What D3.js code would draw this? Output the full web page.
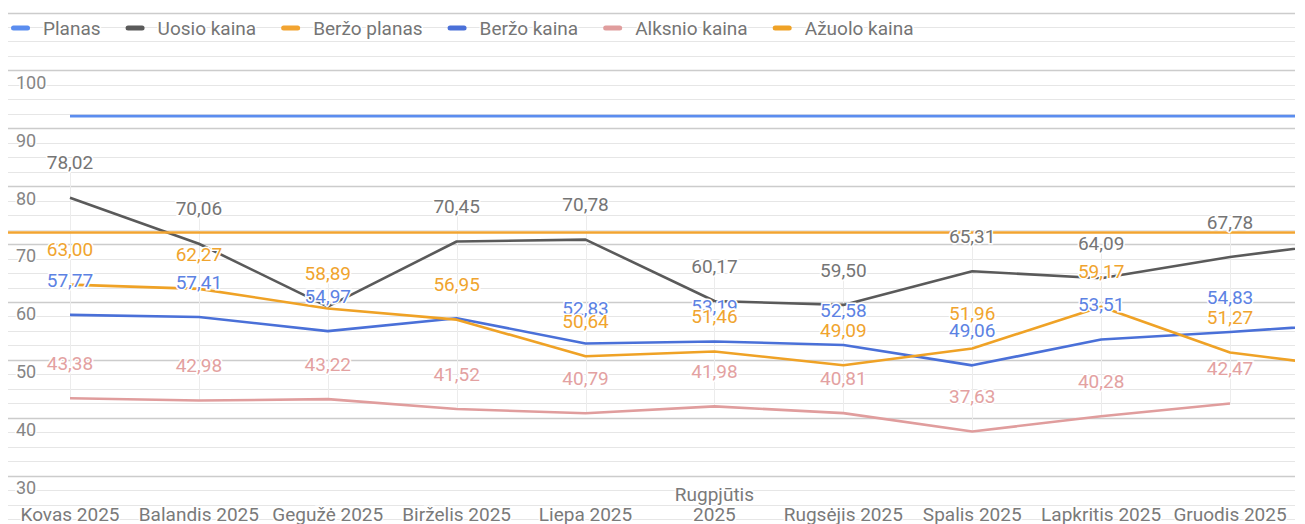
<!DOCTYPE html>
<html>
<head>
<meta charset="utf-8">
<script src="https://cdn.jsdelivr.net/npm/d3@7"></script>
<style>
  body { margin: 0; background: #fff; }
  svg { display: block; font-family: Roboto, "Noto Sans", sans-serif; }
</style>
</head>
<body>
<svg width="1305" height="524"></svg>
<script>
// months (first and last sit outside the visible window)
const months = ["Vasaris 2025", "Kovas 2025", "Balandis 2025", "Gegužė 2025", "Birželis 2025", "Liepa 2025",
  "Rugpjūtis 2025", "Rugsėjis 2025", "Spalis 2025", "Lapkritis 2025", "Gruodis 2025", "Sausis 2026"];

const planas      = [null, 92.1, 92.1, 92.1, 92.1, 92.1, 92.1, 92.1, 92.1, 92.1, 92.1, 92.1];
const uosioKaina  = [null, 78.02, 70.06, 59.2, 70.45, 70.78, 60.17, 59.50, 65.31, 64.09, 67.78, 70.6];
const berzoPlanas = [72, 72, 72, 72, 72, 72, 72, 72, 72, 72, 72, 72];
const berzoKaina  = [null, 57.77, 57.41, 54.97, 57.2, 52.83, 53.19, 52.58, 49.06, 53.51, 54.83, 56.3];
const alksnioKaina = [null, 43.38, 42.98, 43.22, 41.52, 40.79, 41.98, 40.81, 37.63, 40.28, 42.47, null];
const azuoloKaina = [null, 63.00, 62.27, 58.89, 56.95, 50.64, 51.46, 49.09, 51.96, 59.17, 51.27, 48.5];

const yTicks = [30, 40, 50, 60, 70, 80, 90, 100];

const series = [
  {name: "Planas", values: planas, color: "#5b8def", text: null},
  {name: "Uosio kaina", values: uosioKaina, color: "#5a5a5a", text: "#757575"},
  {name: "Beržo planas", values: berzoPlanas, color: "#f2a431", text: null},
  {name: "Beržo kaina", values: berzoKaina, color: "#4a70d8", text: "#5c82e3"},
  {name: "Alksnio kaina", values: alksnioKaina, color: "#e09d9d", text: "#e3a1a1"},
  {name: "Ažuolo kaina", values: azuoloKaina, color: "#efa226", text: "#f0a42e"}
];

const svg = d3.select("svg");
const left = 8, right = 1295;
const fs = 19;

const x = d3.scalePoint()
  .domain(months)
  .range([-58.9, 1358.9]);

const y = d3.scaleLinear()
  .domain([30, 100])
  .range([475.7, 70.4]);

const fmt = d3.formatLocale({decimal: ",", thousands: " ", grouping: [3], currency: ["", "€"]}).format(".2f");

svg.append("defs").append("clipPath")
    .attr("id", "plot")
  .append("rect")
    .attr("x", left).attr("y", 0)
    .attr("width", right - left).attr("height", 524);

// horizontal gridlines every 2.5, darker every 10
const grid = d3.range(22.5, 110.1, 2.5);
svg.append("g")
  .selectAll("line")
  .data(grid)
  .join("line")
    .attr("x1", left).attr("x2", right)
    .attr("y1", d => Math.round(y(d)) + 0.5)
    .attr("y2", d => Math.round(y(d)) + 0.5)
    .attr("stroke", d => d % 10 === 0 ? "#cccccc" : "#e6e6e6")
    .attr("stroke-width", d => d % 10 === 0 ? 1.5 : 1);

// vertical category guides from top label down to lowest point
const labelled = series.filter(s => s.text);
svg.append("g")
  .selectAll("line")
  .data(months.filter((m, i) => labelled.some(s => s.values[i] != null) && x(m) > left && x(m) < right))
  .join("line")
    .attr("x1", d => Math.round(x(d)) + 0.5)
    .attr("x2", d => Math.round(x(d)) + 0.5)
    .attr("y1", d => {
      const i = months.indexOf(d);
      return y(d3.max(labelled, s => s.values[i])) - 26;
    })
    .attr("y2", d => {
      const i = months.indexOf(d);
      return y(d3.min(labelled, s => s.values[i]));
    })
    .attr("stroke", "#ececec")
    .attr("stroke-width", 1);

// y tick labels
svg.append("g")
  .selectAll("text")
  .data(yTicks)
  .join("text")
    .attr("x", 16)
    .attr("y", d => y(d) + 12)
    .attr("dy", "0.35em")
    .attr("font-size", 18)
    .attr("fill", "#858585")
    .attr("stroke", "#fff").attr("stroke-width", 3).attr("paint-order", "stroke")
    .text(d => d);

// lines
const line = d3.line()
  .defined(d => d.v != null)
  .x(d => x(d.m))
  .y(d => y(d.v));

svg.append("g")
    .attr("clip-path", "url(#plot)")
  .selectAll("path")
  .data(series)
  .join("path")
    .attr("fill", "none")
    .attr("stroke", d => d.color)
    .attr("stroke-width", 2.6)
    .attr("stroke-linejoin", "round")
    .attr("d", d => line(d.values.map((v, i) => ({m: months[i], v}))));

// data labels (later series drawn on top, near-duplicates skipped)
const labels = [];
labelled.forEach((s, si) => {
  s.values.forEach((v, i) => {
    if (v == null) return;
    const xx = x(months[i]);
    if (xx < left || xx > right) return;
    labels.push({s, si, i, v, x: xx, y: y(v) - 35});
  });
});
const shown = labels.filter(a => !labels.some(b => b.i === a.i && b.si > a.si && Math.abs(b.y - a.y) < 3));

svg.append("g")
  .selectAll("text")
  .data(shown)
  .join("text")
    .attr("x", d => d.x)
    .attr("y", d => d.y)
    .attr("dy", "0.35em")
    .attr("text-anchor", "middle")
    .attr("font-size", fs)
    .attr("fill", d => d.s.text)
    .attr("stroke", "#fff").attr("stroke-width", 3).attr("paint-order", "stroke")
    .text(d => fmt(d.v));

// x labels, wrapped when too wide for the step
const step = x.step();
const xl = svg.append("g")
  .selectAll("text")
  .data(months.filter(m => x(m) > left && x(m) < right))
  .join("text")
    .attr("x", d => x(d))
    .attr("y", 514)
    .attr("dy", "0.35em")
    .attr("text-anchor", "middle")
    .attr("font-size", fs)
    .attr("fill", "#7a7a7a")
    .attr("stroke", "#fff").attr("stroke-width", 3).attr("paint-order", "stroke")
    .text(d => d);

xl.each(function(d) {
  const t = d3.select(this);
  if (this.getComputedTextLength() > step * 0.95) {
    const words = d.split(" ");
    t.text(null);
    t.append("tspan").attr("x", x(d)).attr("dy", "-0.68em").text(words.slice(0, -1).join(" "));
    t.append("tspan").attr("x", x(d)).attr("dy", "1.03em").text(words[words.length - 1]);
  }
});

// legend
const legend = svg.append("g");
let lx = 11;
series.forEach(s => {
  legend.append("rect")
    .attr("x", lx).attr("y", 25.5)
    .attr("width", 19).attr("height", 5)
    .attr("rx", 2.5)
    .attr("fill", s.color);
  const t = legend.append("text")
    .attr("x", lx + 32)
    .attr("y", 28)
    .attr("dy", "0.35em")
    .attr("font-size", fs)
    .attr("fill", "#757575")
    .attr("stroke", "#fff").attr("stroke-width", 3).attr("paint-order", "stroke")
    .text(s.name);
  lx += 32 + t.node().getComputedTextLength() + 25;
});
</script>
</body>
</html>
